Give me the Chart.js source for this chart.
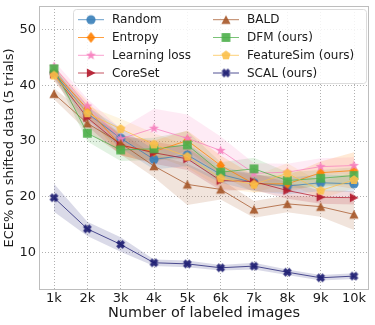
<!DOCTYPE html>
<html>
<head>
<meta charset="utf-8">
<script src="https://cdn.jsdelivr.net/npm/chart.js@4.4.1/dist/chart.umd.min.js"></script>
<style>
    html, body { margin: 0; padding: 0; background: #fff; }
    #wrap { width: 375px; height: 325px; }
</style>
</head>
<body>
<div id="wrap"><canvas id="grafica"></canvas></div>
<script>
/* =========================================================
    DATOS
========================================================= */
const budgets = [1, 2, 3, 4, 5, 6, 7, 8, 9, 10];
const xTickLabels = ["1k", "2k", "3k", "4k", "5k", "6k", "7k", "8k", "9k", "10k"];
const yTicks = [10, 20, 30, 40, 50];

const seriesNames = ["Random", "Entropy", "Learning loss", "CoreSet",
                     "BALD", "DFM (ours)", "FeatureSim (ours)", "SCAL (ours)"];

const random       = [42.2, 35.0, 30.5, 26.7, 27.5, 24.0, 22.5, 21.9, 22.5, 22.3];
const entropy      = [42.4, 35.8, 29.2, 28.1, 30.1, 25.6, 22.3, 22.3, 24.3, 24.7];
const learningLoss = [43.4, 36.3, 30.4, 32.3, 30.5, 28.3, 24.2, 24.4, 25.4, 25.6];
const coreSet      = [42.0, 34.2, 29.3, 27.9, 26.8, 22.9, 22.7, 21.1, 19.9, 19.8];
const bald         = [38.5, 33.2, 29.6, 25.5, 22.2, 21.3, 17.7, 18.7, 18.2, 16.8];
const dfm          = [43.0, 31.4, 28.4, 28.6, 29.3, 24.4, 25.0, 22.9, 23.3, 23.8];
const featureSim   = [41.8, 35.0, 32.2, 29.4, 27.2, 23.3, 22.2, 24.2, 21.1, 23.0];
const scal         = [19.8, 14.2, 11.4, 8.1, 7.9, 7.2, 7.5, 6.4, 5.4, 5.7];

// desviacion estandar (banda sombreada)
const randomStd       = [1.0, 1.2, 1.8, 1.8, 2.0, 1.5, 1.5, 1.5, 1.5, 1.5];
const entropyStd      = [1.0, 1.3, 1.8, 2.0, 1.8, 1.8, 1.5, 1.5, 2.0, 3.3];
const learningLossStd = [1.0, 1.3, 1.8, 3.5, 4.3, 2.5, 1.8, 1.5, 1.5, 1.5];
const coreSetStd      = [1.0, 1.5, 1.8, 2.0, 2.0, 1.8, 1.5, 1.5, 1.2, 1.2];
const baldStd         = [1.0, 1.5, 2.0, 2.0, 3.7, 1.8, 1.5, 1.5, 1.8, 2.8];
const dfmStd          = [1.0, 1.5, 2.0, 2.0, 2.5, 1.8, 2.0, 1.5, 1.5, 1.5];
const featureSimStd   = [1.0, 1.3, 1.8, 2.0, 2.0, 1.8, 1.5, 1.8, 1.5, 1.5];
const scalStd         = [2.5, 1.3, 1.3, 0.6, 0.6, 0.5, 0.6, 0.5, 0.5, 0.5];

/* =========================================================
    ESTILO
========================================================= */
const FONT = "'DejaVu Sans', sans-serif";

const estilos = [
    { rgb: "55,126,184",  shape: "circle",   r: 4.6 },
    { rgb: "255,127,0",   shape: "diamond",  r: 5.4 },
    { rgb: "247,129,191", shape: "star",     r: 5.2 },
    { rgb: "178,24,43",   shape: "triRight", r: 4.6 },
    { rgb: "166,86,40",   shape: "triUp",    r: 4.6 },
    { rgb: "77,175,74",   shape: "square",   r: 4.4 },
    { rgb: "251,192,74",  shape: "pentagon", r: 4.8 },
    { rgb: "25,25,112",   shape: "x",        r: 4.4 }
];

// Dibuja un marcador en un canvas pequeño (para pointStyle)
function crearMarcador(shape, color, r) {
    const s = Math.ceil(r * 2 + 4);
    const c = document.createElement("canvas");
    c.width = s; c.height = s;
    const g = c.getContext("2d");
    g.translate(s / 2, s / 2);
    g.fillStyle = color;
    g.beginPath();
    const poly = pts => pts.forEach((p, i) => i ? g.lineTo(p[0], p[1]) : g.moveTo(p[0], p[1]));

    if (shape === "circle") {
        g.arc(0, 0, r, 0, Math.PI * 2);
    } else if (shape === "diamond") {
        poly([[0, -r], [r * 0.8, 0], [0, r], [-r * 0.8, 0]]);
    } else if (shape === "square") {
        poly([[-r, -r], [r, -r], [r, r], [-r, r]]);
    } else if (shape === "triUp") {
        poly([[0, -r], [r, r * 0.9], [-r, r * 0.9]]);
    } else if (shape === "triRight") {
        poly([[r, 0], [-r * 0.9, -r], [-r * 0.9, r]]);
    } else if (shape === "star" || shape === "pentagon") {
        const pts = [];
        const n = shape === "star" ? 10 : 5;
        for (let i = 0; i < n; i++) {
            const a = -Math.PI / 2 + i * Math.PI * 2 / n;
            const rr = (shape === "star" && i % 2) ? r * 0.42 : r;
            pts.push([Math.cos(a) * rr, Math.sin(a) * rr]);
        }
        poly(pts);
    } else if (shape === "x") {
        const w = r * 0.42;
        const base = [[-w, -r], [w, -r], [w, -w], [r, -w], [r, w], [w, w],
                      [w, r], [-w, r], [-w, w], [-r, w], [-r, -w], [-w, -w]];
        const c45 = Math.SQRT1_2;
        poly(base.map(p => [(p[0] - p[1]) * c45, (p[0] + p[1]) * c45]));
    }
    g.closePath();
    g.fill();
    return c;
}

const valores = [random, entropy, learningLoss, coreSet, bald, dfm, featureSim, scal];
const desv = [randomStd, entropyStd, learningLossStd, coreSetStd, baldStd, dfmStd, featureSimStd, scalStd];
const marcadores = estilos.map(e => crearMarcador(e.shape, `rgba(${e.rgb},0.9)`, e.r));

/* =========================================================
    DATASETS (banda superior, banda inferior, linea)
========================================================= */
const datasets = [];
valores.forEach((vals, i) => {
    const e = estilos[i];
    const sd = desv[i];
    datasets.push({
        label: seriesNames[i] + " sup",
        data: budgets.map((b, k) => ({ x: b, y: vals[k] + sd[k] })),
        borderWidth: 0, pointRadius: 0,
        backgroundColor: `rgba(${e.rgb},0.16)`,
        fill: "+1", order: 20
    });
    datasets.push({
        label: seriesNames[i] + " inf",
        data: budgets.map((b, k) => ({ x: b, y: vals[k] - sd[k] })),
        borderWidth: 0, pointRadius: 0,
        fill: false, order: 20
    });
    datasets.push({
        label: seriesNames[i],
        data: budgets.map((b, k) => ({ x: b, y: vals[k] })),
        borderColor: `rgba(${e.rgb},0.75)`,
        borderWidth: 1,
        pointStyle: marcadores[i],
        pointRadius: 5,
        fill: false,
        order: 8 - i
    });
});

/* =========================================================
    PLUGINS: marco y leyenda en dos columnas
========================================================= */
const marco = {
    id: "marco",
    afterDatasetsDraw(chart) {
        const { ctx, chartArea: a } = chart;
        ctx.save();
        ctx.strokeStyle = "#bdbdbd";
        ctx.lineWidth = 1;
        ctx.strokeRect(Math.round(a.left) + 0.5, Math.round(a.top) + 0.5,
                       Math.round(a.right - a.left) - 1, Math.round(a.bottom - a.top) - 1);
        ctx.restore();
    }
};

const leyenda = {
    id: "leyenda",
    afterDraw(chart) {
        const ctx = chart.ctx;
        ctx.save();
        ctx.beginPath();
        ctx.roundRect(73.5, 9.5, 293, 74, 3);
        ctx.fillStyle = "rgba(255,255,255,0.85)";
        ctx.fill();
        ctx.strokeStyle = "#dcdcdc";
        ctx.lineWidth = 1;
        ctx.stroke();

        const filas = [19.7, 37.5, 55.3, 73];
        ctx.font = "12px " + FONT;
        ctx.textBaseline = "middle";
        ctx.textAlign = "left";
        seriesNames.forEach((name, i) => {
            const x0 = i < 4 ? 78 : 213;
            const y = filas[i % 4];
            const e = estilos[i];
            ctx.strokeStyle = `rgba(${e.rgb},0.75)`;
            ctx.lineWidth = 1;
            ctx.beginPath();
            ctx.moveTo(x0, y);
            ctx.lineTo(x0 + 26, y);
            ctx.stroke();
            const m = marcadores[i];
            ctx.drawImage(m, x0 + 13 - m.width / 2, y - m.height / 2);
            ctx.fillStyle = "#1a1a1a";
            ctx.fillText(name, x0 + 34, y + 0.5);
        });
        ctx.restore();
    }
};

/* =========================================================
    GRAFICA
========================================================= */
Chart.defaults.font.family = FONT;
Chart.defaults.color = "#1a1a1a";

const rejilla = { color: "rgba(150,150,150,0.75)", lineWidth: 1, drawTicks: false };
const bordeRejilla = { display: false, dash: [1, 2] };

new Chart(document.getElementById("grafica"), {
    type: "line",
    data: { datasets },
    options: {
        responsive: true,
        maintainAspectRatio: false,
        animation: false,
        layout: { padding: { left: 0, top: 3, right: 4, bottom: 0 } },
        plugins: {
            legend: { display: false },
            tooltip: { enabled: false },
            filler: { drawTime: "beforeDatasetsDraw" }
        },
        scales: {
            x: {
                type: "linear",
                min: 0.55,
                max: 10.45,
                afterBuildTicks: s => { s.ticks = budgets.map(v => ({ value: v })); },
                afterFit: s => { s.height = 35; s.paddingLeft = 0; s.paddingRight = 0; },
                ticks: {
                    font: { size: 13 },
                    padding: 1,
                    maxRotation: 0,
                    callback: (v, i) => xTickLabels[i]
                },
                grid: rejilla,
                border: bordeRejilla,
                title: {
                    display: true,
                    text: "Number of labeled images",
                    font: { size: 14.5 },
                    padding: { top: 0, bottom: 3 }
                }
            },
            y: {
                min: 3.2,
                max: 54.3,
                afterBuildTicks: s => { s.ticks = yTicks.map(v => ({ value: v })); },
                afterFit: s => { s.width = 39; s.paddingTop = 0; s.paddingBottom = 0; },
                ticks: { font: { size: 13 }, padding: 3 },
                grid: rejilla,
                border: bordeRejilla,
                title: {
                    display: true,
                    text: "ECE% on shifted data (5 trials)",
                    font: { size: 13 },
                    padding: { top: 2, bottom: 0 }
                }
            }
        }
    },
    plugins: [marco, leyenda]
});
</script>
</body>
</html>
